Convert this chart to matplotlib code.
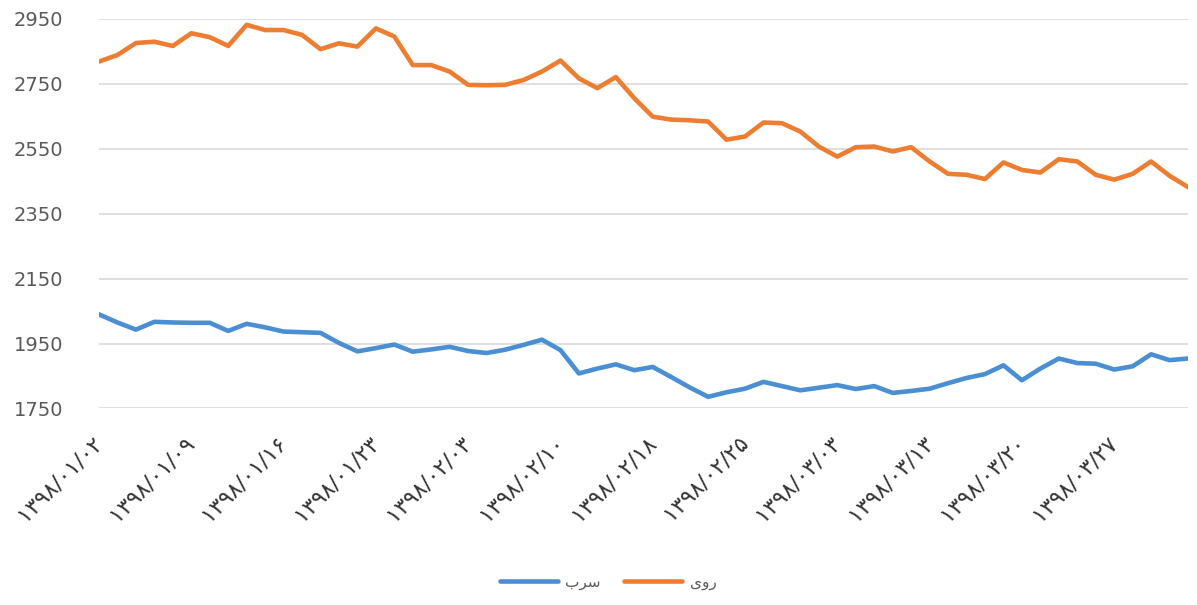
import numpy as np
import matplotlib
matplotlib.use("Agg")
import matplotlib.pyplot as plt

plt.rcParams['font.family'] = ['DejaVu Sans']

# tick labels (every 5th trading day)
date_labels = ["۱۳۹۸/۰۱/۰۲", "۱۳۹۸/۰۱/۰۹", "۱۳۹۸/۰۱/۱۶", "۱۳۹۸/۰۱/۲۳",
               "۱۳۹۸/۰۲/۰۳", "۱۳۹۸/۰۲/۱۰", "۱۳۹۸/۰۲/۱۸", "۱۳۹۸/۰۲/۲۵",
               "۱۳۹۸/۰۳/۰۳", "۱۳۹۸/۰۳/۱۳", "۱۳۹۸/۰۳/۲۰", "۱۳۹۸/۰۳/۲۷"]

# lead (سرب)
lead = [2040, 2015, 1993, 2017, 2015, 2014, 2014, 1989, 2011, 2000,
        1987, 1985, 1983, 1952, 1926, 1936, 1947, 1925, 1932, 1940,
        1927, 1921, 1931, 1946, 1962, 1930, 1858, 1873, 1886, 1868,
        1878, 1847, 1815, 1786, 1800, 1811, 1832, 1819, 1806, 1814,
        1822, 1810, 1819, 1798, 1804, 1811, 1828, 1844, 1856, 1883,
        1837, 1873, 1904, 1890, 1888, 1870, 1880, 1917, 1899, 1904]

# zinc (روی)
zinc = [2819, 2839, 2876, 2880, 2867, 2906, 2894, 2867, 2932, 2916,
        2916, 2901, 2857, 2875, 2865, 2921, 2896, 2808, 2808, 2788,
        2747, 2746, 2747, 2762, 2788, 2822, 2767, 2737, 2771, 2706,
        2649, 2640, 2638, 2634, 2578, 2588, 2631, 2629, 2603, 2557,
        2526, 2555, 2557, 2542, 2555, 2511, 2473, 2470, 2457, 2508,
        2485, 2477, 2518, 2511, 2470, 2455, 2473, 2511, 2467, 2432]

# series names in visual (shaped) order, matplotlib does no Arabic shaping
lead_label = "\u0628\uFEAE\uFEB3"   # سرب
zinc_label = "\u06CC\u0648\u0631"   # روی

x = np.arange(len(zinc))

fig = plt.figure(figsize=(11.97, 6.05), dpi=100)
ax = fig.add_axes([0.0827, 0.3248, 0.9098, 0.6438])

ax.plot(x, lead, color='#4a8fd4', lw=3.3, solid_joinstyle='round',
        solid_capstyle='round', label=lead_label)
ax.plot(x, zinc, color='#ed7d31', lw=3.3, solid_joinstyle='round',
        solid_capstyle='round', label=zinc_label)

ax.set_xlim(0, len(x) - 1)
ax.set_ylim(1750, 2950)
ax.set_yticks(np.arange(1750, 2951, 200))
ax.grid(axis='y', color='#d9d9d9', lw=1.2)
ax.set_axisbelow(True)
for s in ax.spines.values():
    s.set_visible(False)
ax.tick_params(length=0)
ax.tick_params(axis='y', pad=26, labelsize=14, labelcolor='#595959')

ax.set_xticks(x[::5])
ax.set_xticklabels(date_labels, rotation=45, ha='right', va='center',
                   rotation_mode='anchor', fontsize=16, color='#333333')
ax.tick_params(axis='x', pad=22)

fig.legend(loc='center', bbox_to_anchor=(0.508, 0.038), ncol=2, frameon=False,
           fontsize=11, handlelength=3.8, handletextpad=0.5, columnspacing=1.5,
           labelcolor='#595959')

fig.savefig('out.png', dpi=100)
